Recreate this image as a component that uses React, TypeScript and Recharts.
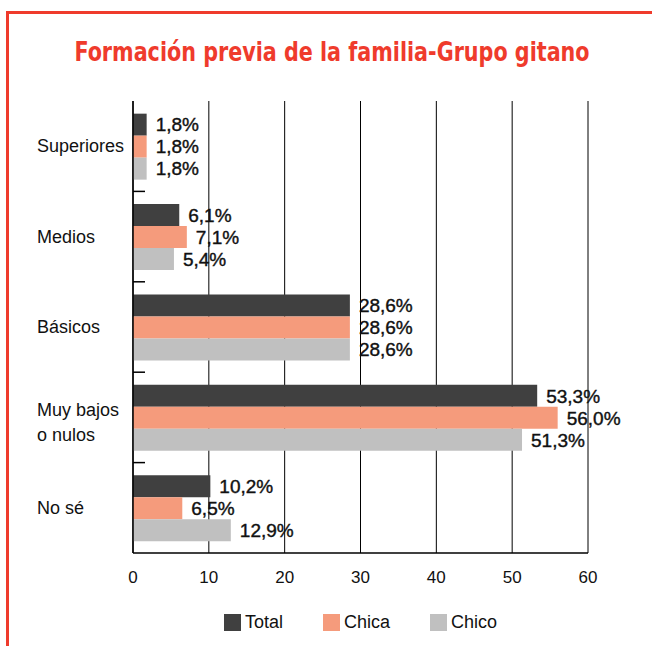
import React from 'react';
import {
  BarChart,
  Bar,
  XAxis,
  YAxis,
  CartesianGrid,
  Legend,
  LabelList,
} from 'recharts';

const categories = ['Superiores', 'Medios', 'Básicos', 'Muy bajos\no nulos', 'No sé'];
const total = [1.8, 6.1, 28.6, 53.3, 10.2];
const chica = [1.8, 7.1, 28.6, 56.0, 6.5];
const chico = [1.8, 5.4, 28.6, 51.3, 12.9];
const xTicks = [0, 10, 20, 30, 40, 50, 60];

const series = [
  { key: 'total', name: 'Total', color: '#404040' },
  { key: 'chica', name: 'Chica', color: '#f59b7c' },
  { key: 'chico', name: 'Chico', color: '#c0c0c0' },
];

const data = categories.map((name, i) => ({
  name,
  total: total[i],
  chica: chica[i],
  chico: chico[i],
}));

const FONT = '"Liberation Sans", Arial, Helvetica, sans-serif';
const RED = '#ef3b2c';

const fmt = (v: any) => `${Number(v).toFixed(1).replace('.', ',')}%`;

function CategoryTick(props: any) {
  const { x, y, payload, index } = props;
  const half = payload?.offset ?? 45;
  const lines = String(payload.value).split('\n');
  const lh = 25;
  const start = lines.length > 1 ? -7 : 0;
  return (
    <g>
      <text
        x={37}
        y={y}
        textAnchor="start"
        dominantBaseline="central"
        fontSize={18}
        fontFamily={FONT}
        fill="#111"
      >
        {lines.map((l, i) => (
          <tspan key={i} x={37} dy={i === 0 ? start : lh}>
            {l}
          </tspan>
        ))}
      </text>
      {index < categories.length - 1 && (
        <line x1={x} x2={x + 12} y1={y + half} y2={y + half} stroke="#000" strokeWidth={1.5} />
      )}
    </g>
  );
}

function LegendContent() {
  return (
    <div
      style={{
        display: 'flex',
        justifyContent: 'center',
        gap: 40,
        fontFamily: FONT,
        fontSize: 18,
        color: '#111',
        marginTop: 2,
      }}
    >
      {series.map((s) => (
        <div key={s.key} style={{ display: 'flex', alignItems: 'center', gap: 4 }}>
          <span style={{ width: 17, height: 17, background: s.color, display: 'inline-block' }} />
          <span>{s.name}</span>
        </div>
      ))}
    </div>
  );
}

export default function App() {
  return (
    <div
      style={{
        position: 'absolute',
        left: 0,
        top: 0,
        width: 652,
        height: 646,
        background: '#fff',
        overflow: 'hidden',
      }}
    >
      <div style={{ position: 'absolute', left: 6, top: 11, width: 646, height: 2.5, background: RED }} />
      <div style={{ position: 'absolute', left: 6, top: 11, width: 2.5, height: 635, background: RED }} />
      <div
        style={{
          position: 'absolute',
          left: 0,
          top: 37,
          width: 664,
          textAlign: 'center',
          fontFamily: '"DejaVu Sans Condensed", "Liberation Sans", Arial, sans-serif',
          fontWeight: 'bold',
          fontSize: 26,
          color: RED,
          transform: 'scaleX(0.885)',
          transformOrigin: '332px 50%',
          whiteSpace: 'nowrap',
        }}
      >
        Formación previa de la familia-Grupo gitano
      </div>
      <BarChart
        width={652}
        height={646}
        data={data}
        layout="vertical"
        margin={{ top: 101, right: 64, left: 0, bottom: 0 }}
        barCategoryGap="14%"
        barGap={0}
      >
        <CartesianGrid vertical horizontal={false} stroke="#000" strokeWidth={1} />
        <XAxis
          type="number"
          domain={[0, 60]}
          ticks={xTicks}
          tickLine={false}
          axisLine={{ stroke: '#000', strokeWidth: 1.5 }}
          tick={{ fill: '#111', fontSize: 17, fontFamily: FONT }}
          tickMargin={12}
          height={57}
        />
        <XAxis
          xAxisId="top"
          orientation="top"
          type="number"
          domain={[0, 60]}
          tick={false}
          tickLine={false}
          axisLine={{ stroke: '#000', strokeWidth: 1.5 }}
          height={0}
        />
        <YAxis
          type="category"
          dataKey="name"
          width={133}
          tickLine={false}
          tickSize={0}
          tickMargin={0}
          axisLine={{ stroke: '#000', strokeWidth: 1.5 }}
          tick={<CategoryTick />}
          interval={0}
        />
        <Legend
          verticalAlign="bottom"
          height={36}
          content={<LegendContent />}
          wrapperStyle={{ left: 133, width: 455 }}
        />
        {series.map((s) => (
          <Bar key={s.key} dataKey={s.key} name={s.name} fill={s.color} isAnimationActive={false}>
            <LabelList
              dataKey={s.key}
              position="right"
              offset={9}
              formatter={fmt}
              style={{ fill: '#111', fontSize: 19, fontFamily: FONT, stroke: '#111', strokeWidth: 0.4 }}
            />
          </Bar>
        ))}
      </BarChart>
    </div>
  );
}
